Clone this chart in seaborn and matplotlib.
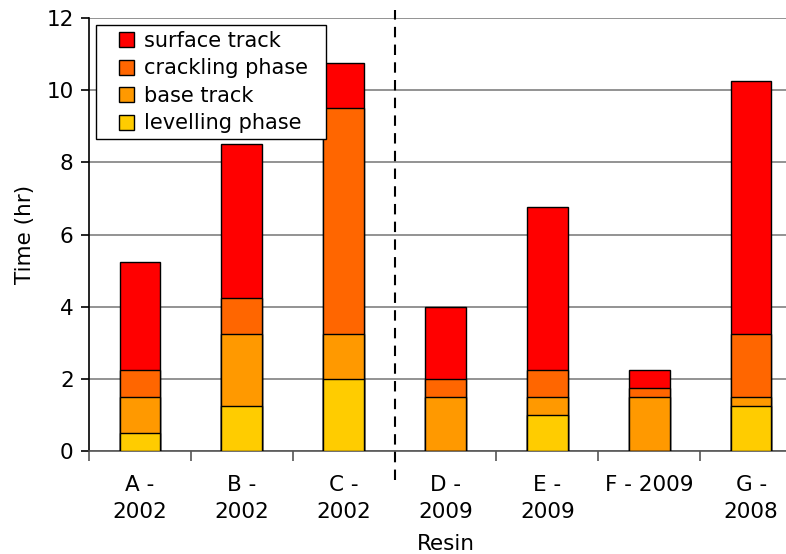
import matplotlib
matplotlib.use("Agg")
import matplotlib.pyplot as plt
from matplotlib.patches import Rectangle
from matplotlib.legend_handler import HandlerPatch
import seaborn as sns
import pandas as pd
import numpy as np

# Resin samples and the time spent in each phase (hours)
resins = ["A -\n2002", "B -\n2002", "C -\n2002", "D -\n2009",
          "E -\n2009", "F - 2009", "G -\n2008"]
levelling = [0.5, 1.25, 2.0, 0.0, 1.0, 0.0, 1.25]
base_track = [1.0, 2.0, 1.25, 1.5, 0.5, 1.5, 0.25]
crackling = [0.75, 1.0, 6.25, 0.5, 0.75, 0.25, 1.75]
surface = [3.0, 4.25, 1.25, 2.0, 4.5, 0.5, 7.0]

phases = ["surface track", "crackling phase", "base track", "levelling phase"]
colors = {"surface track": "#FF0000", "crackling phase": "#FF6600",
          "base track": "#FF9900", "levelling phase": "#FFCC00"}

df = pd.DataFrame({
    "Resin": resins,
    "levelling phase": levelling,
    "base track": base_track,
    "crackling phase": crackling,
    "surface track": surface,
})
# cumulative tops, bottom layer first
stack_order = ["levelling phase", "base track", "crackling phase", "surface track"]
cum = df[stack_order].cumsum(axis=1)

sns.set_style("white")
plt.rcParams["font.family"] = ["DejaVu Sans"]
plt.rcParams.update({"text.color": "black", "axes.labelcolor": "black",
                     "xtick.color": "black", "ytick.color": "black"})
FS = 15.5

fig = plt.figure(figsize=(7.86, 5.54), dpi=100)
ax = fig.add_axes([89 / 786, 1 - 451 / 554, (802 - 89) / 786, (451 - 18) / 554])

# draw tallest cumulative layer first so lower layers sit on top
for phase in reversed(stack_order):
    plot_df = pd.DataFrame({"Resin": df["Resin"], "Time": cum[phase]})
    sns.barplot(data=plot_df, x="Resin", y="Time", color=colors[phase],
                saturation=1, width=0.4, edgecolor="black", linewidth=1.0,
                ax=ax, zorder=3, errorbar=None)

ax.set_ylim(0, 12)
ax.set_xlim(-0.5, 6.5)
ax.set_yticks(np.arange(0, 13, 2))
ax.yaxis.grid(True, color="#808080", linewidth=1.2)
ax.set_axisbelow(True)

for side in ["top", "right"]:
    ax.spines[side].set_visible(False)
ax.spines["left"].set_color("black")
ax.spines["left"].set_linewidth(1.2)
ax.spines["bottom"].set_color("#555555")
ax.spines["bottom"].set_linewidth(1.2)

ax.tick_params(axis="y", direction="out", length=6, width=1.2, color="black",
               pad=5, left=True, labelsize=FS, labelcolor="black")
ax.tick_params(axis="x", which="major", length=0, pad=17, labelsize=FS,
               labelcolor="black")
for lbl in ax.get_xticklabels():
    lbl.set_linespacing(1.45)
ax.set_xticks(np.arange(-0.5, 7.0, 1.0), minor=True)
ax.tick_params(axis="x", which="minor", direction="out", length=7, width=1.2,
               color="#555555", bottom=True)

ax.set_xlabel("Resin", fontsize=FS, labelpad=9, color="black")
ax.set_ylabel("Time (hr)", fontsize=FS, labelpad=8, color="black")

# dashed separator between the 2002 resins and the later ones
ax.axvline(2.5, ymin=-0.067, ymax=1.018, color="black", linestyle=(0, (5, 3.5)),
           linewidth=1.5, clip_on=False, zorder=5)


def square_at_right(legend, orig_handle, xdescent, ydescent, width, height, fontsize):
    side = 15 / 100 * 72  # 15 px square
    return Rectangle((width - side - xdescent, -ydescent + (height - side) / 2),
                     side, side)


legend_patches = [Rectangle((0, 0), 1, 1, facecolor=colors[p], edgecolor="black",
                            linewidth=1.0) for p in phases]
leg = fig.legend(legend_patches, phases,
                 loc="upper left",
                 bbox_to_anchor=(96 / 786, 1 - 136 / 554, 230 / 786, 111 / 554),
                 bbox_transform=fig.transFigure, mode="expand", borderaxespad=0,
                 fancybox=False, framealpha=1, edgecolor="black",
                 fontsize=15, handlelength=1.55, handleheight=0.75,
                 handletextpad=0.45, labelspacing=0.36, borderpad=0.28,
                 handler_map={Rectangle: HandlerPatch(patch_func=square_at_right)})
leg.get_frame().set_linewidth(1.0)

fig.savefig("out.png", dpi=100)
